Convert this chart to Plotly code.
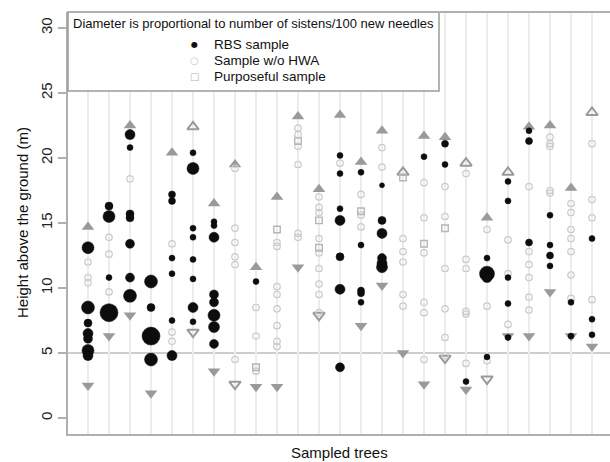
import plotly.graph_objects as go

# ---------------- data ----------------
trees = list(range(1, 26))

# RBS sample (black): tree index, height (m), sistens per 100 new needles
rbs_tree = [1, 1, 1, 1, 1, 1, 1,
            2, 2, 2, 2,
            3, 3, 3, 3, 3, 3, 3,
            4, 4, 4, 4,
            5, 5, 5, 5, 5, 5,
            6, 6, 6, 6, 6, 6, 6, 6,
            7, 7, 7, 7, 7, 7, 7, 7,
            9,
            13, 13, 13, 13, 13, 13, 13,
            14, 14, 14, 14, 14,
            15, 15, 15, 15, 15, 15,
            17,
            18, 18,
            19,
            20, 20, 20, 20,
            21, 21, 21, 21, 21,
            22, 22, 22,
            23, 23, 23, 23,
            24, 24,
            25, 25, 25]
rbs_height = [13.1, 8.5, 7.3, 6.5, 6.1, 5.2, 4.8,
              16.3, 15.5, 10.8, 8.1,
              21.8, 20.8, 15.7, 15.4, 13.4, 10.8, 9.4,
              10.5, 8.5, 6.3, 4.5,
              17.2, 16.7, 12.3, 11.1, 7.5, 4.8,
              20.4, 19.2, 14.6, 13.9, 12.2, 10.7, 8.5, 7.4,
              15.1, 14.8, 13.9, 9.5, 8.9, 7.9, 7.0, 5.7,
              10.5,
              20.2, 18.8, 16.1, 15.2, 12.4, 9.9, 3.9,
              18.9, 13.3, 9.8, 9.6, 8.9,
              17.9, 15.2, 14.2, 12.3, 11.9, 11.6,
              20.1,
              21.1, 19.5,
              2.8,
              12.3, 11.1, 10.8, 4.7,
              18.2, 16.7, 10.8, 8.8, 6.2,
              22.1, 21.3, 13.5,
              15.6, 13.3, 12.5, 11.7,
              8.9, 6.3,
              13.8, 7.6, 6.4]
rbs_sistens = [6.0, 6.5, 4.0, 5.0, 4.5, 6.0, 5.0,
               4.0, 6.0, 3.0, 9.0,
               5.0, 3.0, 4.0, 4.0, 4.5, 4.5, 6.5,
               6.5, 4.0, 9.0, 6.5,
               3.5, 3.5, 3.0, 3.0, 3.0, 5.0,
               3.0, 6.0, 3.0, 3.0, 3.0, 3.0, 5.0, 3.0,
               3.0, 3.0, 5.0, 4.5, 4.5, 6.0, 5.5, 4.5,
               3.0,
               3.0, 3.0, 3.0, 5.0, 4.0, 5.0, 4.5,
               3.0, 3.0, 3.5, 3.5, 3.0,
               2.5, 4.0, 5.0, 4.5, 5.0, 5.5,
               3.0,
               3.5, 3.0,
               3.0,
               3.0, 7.5, 5.0, 3.0,
               3.0, 3.0, 3.0, 3.0, 3.0,
               3.0, 3.5, 3.5,
               3.0, 3.0, 3.5, 3.0,
               3.0, 3.0,
               3.0, 3.0, 3.0]

# Sample without HWA (light open circles)
nohwa_tree = [1, 1, 1,
              2, 2, 2,
              3,
              5, 5, 5,
              8, 8, 8, 8, 8, 8,
              9, 9, 9,
              10, 10, 10, 10, 10, 10, 10, 10,
              11, 11, 11, 11, 11, 11,
              12, 12, 12, 12, 12, 12, 12, 12, 12,
              13,
              14, 14, 14,
              15, 15,
              16, 16, 16, 16, 16,
              17, 17, 17, 17, 17, 17,
              18, 18, 18, 18, 18, 18,
              19, 19, 19, 19, 19, 19,
              20, 20, 20,
              21, 21, 21,
              22, 22, 22, 22, 22, 22,
              23, 23, 23, 23, 23,
              24, 24, 24, 24, 24, 24, 24,
              25, 25, 25, 25]
nohwa_height = [12.0, 10.8, 10.4,
                13.9, 12.6, 9.7,
                18.4,
                13.4, 6.6, 5.9,
                19.2, 14.6, 13.5, 12.4, 11.8, 4.5,
                8.5, 6.3, 3.6,
                13.5, 13.2, 10.1, 9.5, 8.4, 7.1, 5.9, 5.5,
                22.3, 21.8, 20.9, 19.5, 14.2, 13.9,
                17.0, 16.2, 15.8, 13.8, 12.7, 11.5, 10.3, 9.5, 8.1,
                19.6,
                17.2, 15.6, 14.7,
                20.8, 19.3,
                13.8, 12.8, 12.0, 9.5, 8.6,
                18.1, 15.4, 12.7, 8.9, 8.1, 4.5,
                17.8, 15.5, 11.5, 8.4, 6.2, 4.8,
                18.8, 12.2, 11.5, 8.2, 8.0, 4.2,
                14.5, 8.6, 4.4,
                13.7, 11.1, 7.2,
                17.8, 12.8, 11.8, 10.8, 9.3, 8.3,
                21.6, 21.1, 20.9, 17.5, 17.3,
                16.5, 15.8, 14.5, 13.8, 12.8, 11.0, 9.2,
                21.1, 16.8, 15.4, 9.1]

# Purposeful sample (open squares)
purp_tree = [9, 10, 11, 12, 12, 14, 16, 17, 18]
purp_height = [3.9, 14.5, 21.3, 15.2, 13.1, 15.9, 18.5, 13.4, 14.6]

# Tree tops (triangle up) and lowest live branch (triangle down), per tree
top_height = [14.7, None, 22.5, None, 20.4, 22.4, 16.5, 19.5, 11.6, 17.0,
              23.2, 17.6, 23.3, 19.7, 22.1, 18.9, 21.7, 21.6, 19.6, 15.4,
              18.9, 22.4, 22.5, 17.7, 23.5]
top_open_trees = [6, 16, 19, 21, 25]
base_height = [2.5, 6.3, 7.9, 1.9, None, 6.6, 3.6, 2.6, 2.4, 2.4,
               11.6, 7.9, None, 7.1, 10.2, 5.0, 2.6, 4.6, 2.2, 3.0,
               6.3, 6.3, 9.7, 6.3, 5.5]
base_open_trees = [6, 8, 12, 18, 20]

y_ticks = [0, 5, 10, 15, 20, 25, 30]
ref_height = 5

legend_title = "Diameter is proportional to number of sistens/100 new needles"
legend_labels = ["RBS sample", "Sample w/o HWA", "Purposeful sample"]

# ---------------- figure ----------------
FONT = "Liberation Sans, Arial, sans-serif"
TRI = "#9a9a9a"
OPEN = "#cbcbcb"

def split(vals, open_list, want_open):
    xs, ys = [], []
    for t, v in zip(trees, vals):
        if v is None:
            continue
        if (t in open_list) == want_open:
            xs.append(t)
            ys.append(v)
    return xs, ys

fig = go.Figure()

for vals, open_list, sym in [(top_height, top_open_trees, "triangle-up"),
                             (base_height, base_open_trees, "triangle-down")]:
    xs, ys = split(vals, open_list, False)
    fig.add_trace(go.Scatter(x=xs, y=ys, mode="markers", showlegend=False,
                             marker=dict(symbol=sym, size=11, color=TRI, opacity=1,
                                         line=dict(width=0))))
    xs, ys = split(vals, open_list, True)
    fig.add_trace(go.Scatter(x=xs, y=ys, mode="markers", showlegend=False,
                             marker=dict(symbol=sym + "-open", size=10, color=TRI, opacity=1,
                                         line=dict(width=2, color=TRI))))

fig.add_trace(go.Scatter(x=nohwa_tree, y=nohwa_height, mode="markers", showlegend=False,
                         marker=dict(symbol="circle-open", size=6.5, color=OPEN, opacity=1,
                                     line=dict(width=1.2, color=OPEN))))
fig.add_trace(go.Scatter(x=purp_tree, y=purp_height, mode="markers", showlegend=False,
                         marker=dict(symbol="square-open", size=6.5, color="#b5b5b5", opacity=1,
                                     line=dict(width=1.4, color="#b5b5b5"))))
fig.add_trace(go.Scatter(x=rbs_tree, y=rbs_height, mode="markers", showlegend=False,
                         opacity=1,
                         marker=dict(symbol="circle", size=[2 * s for s in rbs_sistens],
                                     color="#0d0d0d", opacity=1,
                                     line=dict(width=0.5, color="#0d0d0d"))))

# reference line at 5 m
fig.add_shape(type="line", xref="paper", x0=0, x1=1, yref="y", y0=ref_height, y1=ref_height,
              line=dict(color="#bdbdbd", width=1.5), layer="below")

# legend box
fig.add_shape(type="rect", xref="paper", yref="paper", x0=0, x1=(439 - 68) / 542,
              y0=(434 - 91) / 422, y1=1,
              line=dict(color="#9a9a9a", width=1.5), fillcolor="white", layer="above")
fig.add_annotation(xref="paper", yref="paper", x=0.005, y=(434 - 24) / 422,
                   xanchor="left", yanchor="middle",
                   text=legend_title, showarrow=False, font=dict(family=FONT, size=13, color="#111"))
leg_syms = [("●", "#111111", 8), ("○", OPEN, 10), ("□", "#b5b5b5", 10)]
for i, (lab, (sym, col, fs)) in enumerate(zip(legend_labels, leg_syms)):
    yy = (434 - (44 + 16.3 * i)) / 422
    fig.add_annotation(xref="paper", yref="paper", x=(194 - 68) / 542, y=yy,
                       xanchor="center", yanchor="middle", text=sym, showarrow=False,
                       font=dict(family="DejaVu Sans", size=fs, color=col))
    fig.add_annotation(xref="paper", yref="paper", x=(212 - 68) / 542, y=yy,
                       xanchor="left", yanchor="middle", text=lab, showarrow=False,
                       font=dict(family=FONT, size=13.5, color="#111"))

# axis titles
fig.add_annotation(xref="paper", yref="paper", x=0.5, y=(434 - 452) / 422,
                   xanchor="center", yanchor="middle", text="Sampled trees", showarrow=False,
                   font=dict(family=FONT, size=15, color="#111"))
fig.add_annotation(xref="paper", yref="paper", x=(22 - 68) / 542, y=0.5,
                   xanchor="center", yanchor="middle", textangle=-90,
                   text="Height above the ground (m)", showarrow=False,
                   font=dict(family=FONT, size=15, color="#111"))

fig.update_layout(
    width=610, height=462,
    margin=dict(l=68, r=0, t=12, b=28, pad=0, autoexpand=False),
    paper_bgcolor="white", plot_bgcolor="white",
    showlegend=False,
    font=dict(family=FONT, size=15, color="#222"),
    xaxis=dict(range=[1 - 20 / 21, 1 + 522 / 21], tickvals=trees, showticklabels=False,
               ticks="", showgrid=True, gridcolor="#ececec", gridwidth=1.5,
               zeroline=False, showline=True, linecolor="#b0b0b0", linewidth=2,
               mirror=False, automargin=False),
    yaxis=dict(range=[-16 / 13, 406 / 13], tickvals=y_ticks, ticktext=[str(v) for v in y_ticks],
               tickangle=-90, ticks="outside", ticklen=8, tickcolor="#b0b0b0", tickwidth=1.5,
               showgrid=False, zeroline=False, showline=True, linecolor="#b0b0b0",
               linewidth=2, automargin=False,
               tickfont=dict(family=FONT, size=15, color="#222")),
)
# top border
fig.add_shape(type="line", xref="paper", yref="paper", x0=0, x1=1, y0=1, y1=1,
              line=dict(color="#b0b0b0", width=2), layer="above")

fig.write_html("out.html", config={"displayModeBar": False},
               post_script="document.body.style.margin='0';document.body.style.overflow='hidden';")
